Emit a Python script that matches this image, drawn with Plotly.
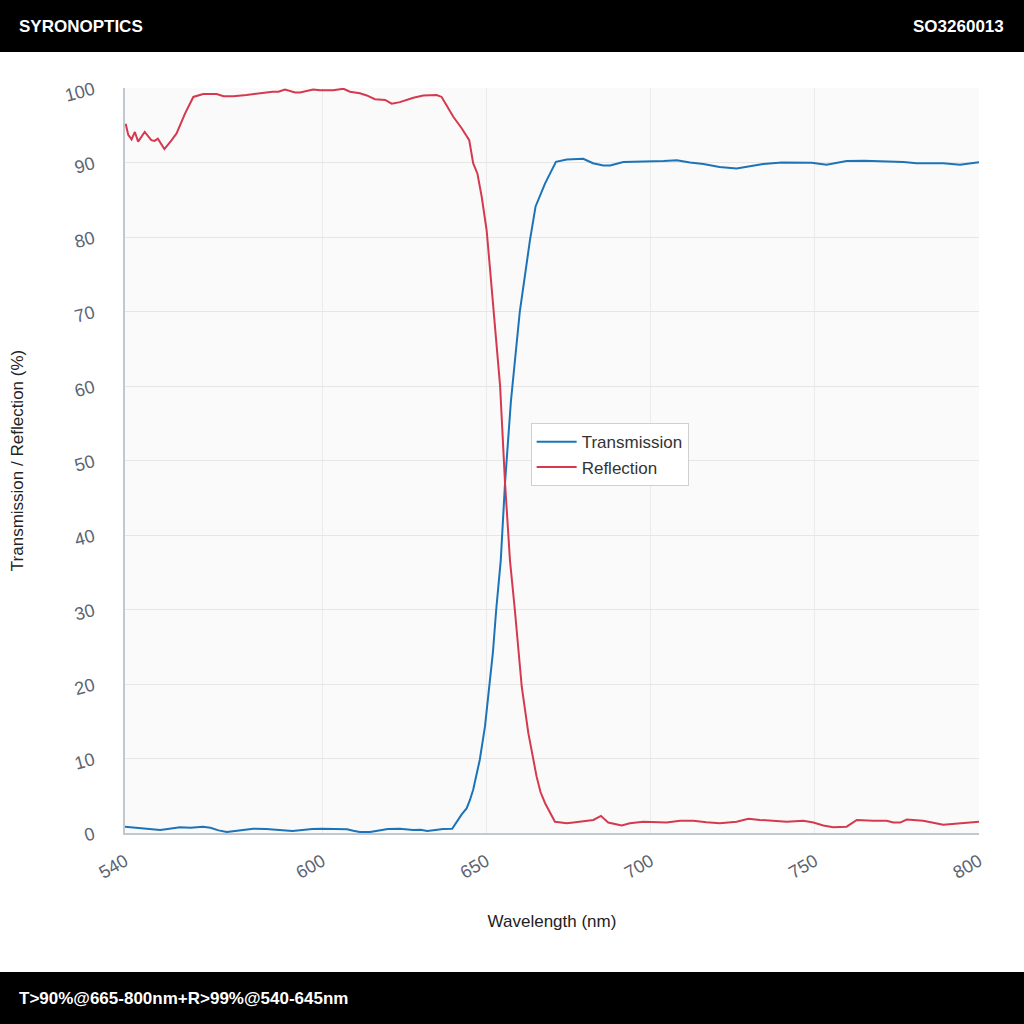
import plotly.graph_objects as go

# wavelength (nm) / transmission (%)
wl_t = [540, 543, 546, 550.7, 553, 556.7, 560, 563.7, 566, 568.5, 571, 574, 579, 583, 586,
        589, 591, 594, 597, 600, 604, 607.6, 609.5, 611.5, 614.6, 617, 620, 623.7, 625.5,
        627.7, 630, 632, 634.5, 636.8, 639.6, 641, 642.5, 644, 645, 646, 646.6, 648, 649.6,
        651, 652, 653, 654.4, 655.7, 657.5, 660.2, 661.5, 663.3, 665, 667.9, 671.2, 674.5,
        679.5, 682.5, 685.6, 687.7, 691.7, 698.8, 704, 708, 712, 716.1, 721, 726.2, 730,
        734.3, 740, 744.5, 749, 753.6, 756.5, 759.7, 765, 769.9, 774, 777, 781, 785, 789.1,
        794.2, 797, 800]
trans = [0.85, 0.75, 0.65, 0.4, 0.55, 0.76, 0.7, 0.85, 0.7, 0.35, 0.13, 0.3, 0.58, 0.55, 0.45,
         0.4, 0.27, 0.4, 0.55, 0.58, 0.55, 0.5, 0.3, 0.13, 0.13, 0.35, 0.54, 0.58, 0.5,
         0.4, 0.45, 0.27, 0.4, 0.54, 0.58, 1.5, 2.5, 3.3, 4.4, 5.8, 7.1, 9.8, 14.3,
         19.6, 24.2, 29.9, 36.6, 47, 58, 70, 74.2, 79.6, 84.1, 87.2, 90.1, 90.4,
         90.5, 89.9, 89.6, 89.6, 90.07, 90.1, 90.2, 90.3, 90.0, 89.8, 89.4, 89.2, 89.5,
         89.8, 90.0, 89.96, 89.95, 89.7, 89.9, 90.2, 90.25, 90.2, 90.15, 90.07, 89.9, 89.95, 89.9,
         89.7, 89.9, 90.05]

# wavelength (nm) / reflection (%)
wl_r = [540.2, 541, 542, 543, 544, 546, 548, 549, 550, 552, 554.2, 555.7, 558.3, 560.8, 563.8,
        567.9, 570, 573, 577, 581, 585, 586.7, 588.7, 591.8, 593.3, 597.3, 599.4, 603.4, 606.5,
        608.5, 611.5, 613.6, 616.1, 619.2, 621.2, 623.7, 627.8, 630.8, 634.9, 636.4, 640, 642.5,
        644.8, 646, 647.3, 648.6, 650.1, 650.9, 652.3, 654.2, 655.7, 657.2, 658.7, 660.8, 662.8,
        665.3, 666.5, 667.9, 670.9, 674.5, 676.5, 679.5, 682.6, 684.9, 687.1, 691.2, 693.7,
        697.8, 701, 704.9, 709, 713, 717, 721.1, 726.2, 729.8, 733.3, 737.4, 741.5, 746.5,
        749.6, 752.6, 755.6, 759.7, 762.8, 767.8, 771.9, 773.9, 776, 778, 783, 789.1, 794.2, 800]
refl = [95.2, 93.7, 93.1, 94.1, 92.8, 94.1, 93.0, 92.9, 93.2, 91.8, 93.0, 93.9, 96.6, 98.8, 99.2,
        99.2, 98.9, 98.9, 99.06, 99.3, 99.5, 99.5, 99.8, 99.4, 99.4, 99.8, 99.7, 99.7, 99.9,
        99.5, 99.3, 99.0, 98.5, 98.4, 97.9, 98.1, 98.7, 99.0, 99.06, 98.8, 96.1, 94.6,
        93.0, 89.9, 88.5, 85.4, 80.9, 76.9, 70, 60, 47, 36.6, 29.9, 19.6, 13.4,
        7.6, 5.5, 4.0, 1.5, 1.3, 1.4, 1.55, 1.75, 2.3, 1.4, 1.0, 1.3,
        1.5, 1.45, 1.4, 1.65, 1.65, 1.45, 1.3, 1.5, 1.9, 1.75, 1.6, 1.5, 1.65,
        1.4, 1.0, 0.76, 0.85, 1.75, 1.65, 1.65, 1.4, 1.4, 1.8, 1.65, 1.1, 1.3, 1.5]

x_ticks = [540, 600, 650, 700, 750, 800]

font_main = "Liberation Sans, Arial, sans-serif"

fig = go.Figure()

fig.add_trace(go.Scatter(x=wl_t, y=trans, mode="lines", name="Transmission",
                         line=dict(color="#1b74b9", width=2)))
fig.add_trace(go.Scatter(x=wl_r, y=refl, mode="lines", name="Reflection",
                         line=dict(color="#d5394f", width=2)))

fig.update_layout(
    width=1024, height=1024,
    margin=dict(l=125, r=45, t=88, b=191),
    paper_bgcolor="white",
    plot_bgcolor="#fafafa",
    font=dict(family=font_main, size=16, color="#333"),
    xaxis=dict(
        range=[540, 800], tickvals=x_ticks, tickangle=-30,
        showgrid=True, gridcolor="#ebebeb", zeroline=False,
        showline=True, linecolor="#c3c8d0", linewidth=1.5,
        ticks="outside", ticklen=9, tickcolor="rgba(0,0,0,0)",
        tickfont=dict(size=18, color="#5b6472"),
        title=dict(text="Wavelength (nm)", font=dict(size=17, color="#222"), standoff=33),
    ),
    yaxis=dict(
        range=[0, 100], dtick=10, tickangle=-15,
        showgrid=True, gridcolor="#e6e6e6", zeroline=False,
        showline=True, linecolor="#c3c8d0", linewidth=1.5,
        ticks="outside", ticklen=26, tickcolor="rgba(0,0,0,0)",
        tickfont=dict(size=18, color="#5b6472"),
        title=dict(text="Transmission / Reflection (%)", font=dict(size=17, color="#222"), standoff=35),
    ),
    legend=dict(
        x=0.475, y=0.55, xanchor="left", yanchor="top",
        bgcolor="white", bordercolor="#d0d0d0", borderwidth=1,
        font=dict(size=17, color="#333"),
        itemwidth=40,
    ),
    shapes=[
        dict(type="rect", xref="paper", yref="paper", x0=-0.2, x1=1.1, y0=1.0483, y1=1.13,
             fillcolor="black", line=dict(width=0), layer="above"),
        dict(type="rect", xref="paper", yref="paper", x0=-0.2, x1=1.1, y0=-0.27, y1=-0.1866,
             fillcolor="black", line=dict(width=0), layer="above"),
    ],
    annotations=[
        dict(text="<b>SYRONOPTICS</b>", xref="paper", yref="paper", x=-0.126, y=1.083,
             xanchor="left", yanchor="middle", showarrow=False,
             font=dict(size=17, color="white", family=font_main)),
        dict(text="<b>SO3260013</b>", xref="paper", yref="paper", x=1.032, y=1.083,
             xanchor="right", yanchor="middle", showarrow=False,
             font=dict(size=17, color="white", family=font_main)),
        dict(text="<b>T>90%@665-800nm+R>99%@540-645nm</b>", xref="paper", yref="paper",
             x=-0.126, y=-0.2215, xanchor="left", yanchor="middle", showarrow=False,
             font=dict(size=17, color="white", family=font_main)),
    ],
)

fig.write_html("out.html", config={"displayModeBar": False},
               post_script="document.body.style.margin='0';")
